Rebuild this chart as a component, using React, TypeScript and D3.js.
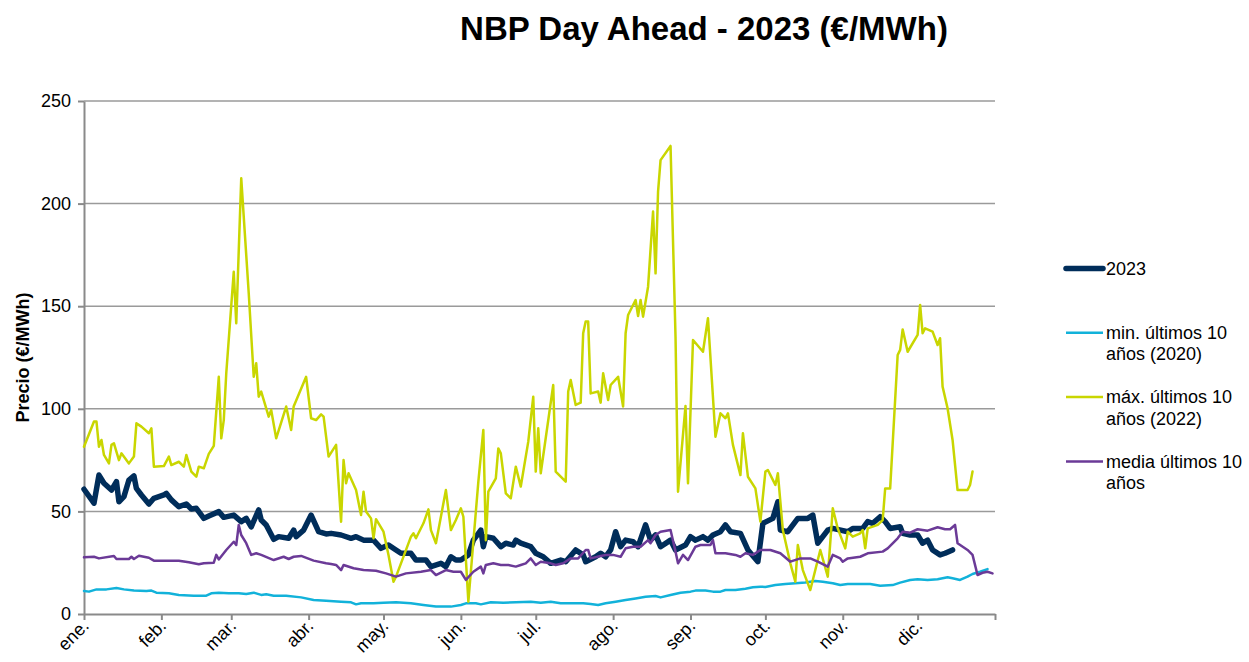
import * as d3 from "d3";
import { useEffect, useRef } from "react";

// day of year (0 = 1 Jan 2023), price €/MWh
const serie2023: [number, number][] = [
  [0, 60.8], [4, 54], [6, 67.7], [8, 63.7], [11, 60.4], [13, 64.5], [14, 54.7], [16, 57.2], [18, 65.3], [20, 67.3],
  [21, 61.2], [23, 58], [26, 53.6], [28, 56.4], [32, 58], [33, 58.8], [35, 55.6], [38, 52.3], [41, 53.6], [43, 51.2],
  [45, 51.5], [48, 46.6], [50, 47.8], [54, 49.9], [56, 47.1], [60, 48.2], [63, 45], [65, 46.6], [67, 42.5], [70, 50.7],
  [71, 45.8], [73, 43.4], [76, 36.4], [78, 37.7], [82, 36.9], [84, 40.9], [85, 37.7], [88, 40.9], [91, 48.2], [94, 40.1],
  [97, 39], [99, 39.3], [103, 38.5], [107, 36.9], [109, 37.7], [112, 36], [116, 36], [119, 32], [122, 33.6], [125, 31.2],
  [127, 29.6], [131, 29.6], [133, 26.3], [137, 26.3], [139, 23.1], [143, 24.7], [145, 23.1], [147, 27.9], [149, 26.3],
  [151, 26.3], [154, 28.8], [156, 36], [159, 40.9], [160, 32.8], [161, 37.7], [164, 36.9], [167, 32.8], [169, 34.5],
  [172, 33.6], [173, 36], [175, 34.5], [179, 32.8], [181, 29.6], [184, 27.9], [187, 24.7], [191, 26.3], [193, 25.5],
  [197, 31.2], [200, 28.8], [201, 25.5], [205, 27.9], [207, 29.6], [209, 27.9], [211, 31.2], [213, 40.1], [215, 32.8],
  [217, 36], [220, 35.2], [222, 32.8], [225, 43.4], [227, 36], [229, 38.5], [231, 32.8], [235, 36], [237, 31.2],
  [241, 33.6], [243, 37.7], [245, 36], [248, 37.7], [250, 36], [252, 38.5], [255, 40.1], [257, 43.4], [259, 40.1],
  [263, 39.3], [266, 31.2], [270, 25.5], [272, 44.2], [276, 46.6], [278, 54.7], [279, 40.9], [282, 40.1], [286, 46.6],
  [290, 46.6], [292, 48.2], [294, 34.5], [298, 40.9], [300, 41.7], [306, 40.1], [308, 41.7], [312, 41.7], [314, 45],
  [316, 44.2], [319, 47.4], [321, 45], [323, 41.7], [327, 42.5], [328, 39.3], [331, 38.5], [334, 38.5], [336, 34.5],
  [338, 36], [340, 31.2], [343, 28.8], [345, 29.6], [348, 31.2],
];

const serieMin: [number, number][] = [
  [0, 11.2], [2, 10.9], [5, 12], [9, 12], [13, 12.7], [16, 12], [20, 11.4], [25, 11.2], [27, 11.4], [29, 10.4],
  [34, 10.1], [38, 9.3], [44, 8.9], [49, 8.9], [51, 10.1], [54, 10.4], [58, 10.1], [62, 10.1], [65, 9.7], [68, 10.4],
  [71, 9.3], [73, 9.6], [76, 8.9], [81, 8.9], [87, 8.1], [92, 6.8], [97, 6.5], [103, 6], [107, 5.7], [109, 4.7],
  [111, 5.2], [116, 5.2], [120, 5.5], [125, 5.7], [131, 5.2], [136, 4.4], [141, 3.6], [147, 3.6], [151, 4.4], [153, 5.2],
  [157, 5.2], [159, 4.7], [163, 5.7], [168, 5.5], [173, 5.7], [179, 6], [183, 5.5], [187, 6], [191, 5.2], [195, 5.2],
  [200, 5.2], [203, 4.9], [206, 4.4], [209, 5.2], [213, 6], [217, 6.8], [221, 7.6], [225, 8.4], [229, 8.8], [231, 8.1],
  [235, 9.3], [239, 10.4], [243, 10.9], [245, 11.4], [249, 11.4], [252, 10.9], [255, 10.9], [257, 11.7], [261, 11.7],
  [265, 12.3], [268, 13], [271, 13.3], [273, 13.2], [277, 14.1], [281, 14.6], [285, 15], [289, 15.3], [293, 16.1],
  [296, 15.7], [300, 15], [303, 14.1], [306, 14.6], [311, 14.6], [315, 14.6], [319, 13.8], [324, 14.1], [327, 15.3],
  [331, 16.6], [334, 16.9], [338, 16.6], [342, 16.9], [346, 17.9], [348, 17.4], [351, 16.6], [354, 18.2], [356, 19.5],
  [359, 20.6], [362, 21.9],
];

const serieMax: [number, number][] = [
  [0, 81.5], [4, 93.8], [5, 93.8], [6, 81.5], [7, 84.8], [8, 77.5], [10, 73.4], [11, 82.4], [12, 83.2], [14, 75],
  [15, 78.3], [18, 73.4], [20, 76.7], [21, 92.9], [23, 91.3], [26, 88.1], [27, 90.5], [28, 71.8], [32, 72.1], [34, 76.7],
  [35, 72.6], [38, 74.2], [40, 71.8], [41, 77.5], [43, 69.4], [45, 66.9], [46, 71.8], [48, 71], [50, 78], [52, 81.9],
  [54, 115.6], [55, 85.6], [56, 94.5], [57, 117.3], [60, 166.8], [61, 141.7], [63, 212.3], [66, 156.3], [68, 115.6],
  [69, 122.2], [70, 105.9], [71, 108.4], [74, 96.2], [75, 99.4], [77, 85.6], [81, 101.1], [83, 89.7], [84, 101.1],
  [89, 115.6], [91, 95.4], [93, 94.5], [95, 97.3], [96, 96.2], [98, 76.7], [101, 82.4], [103, 45], [104, 75], [105, 63.7],
  [106, 68.6], [109, 60.4], [111, 48.2], [112, 59.6], [113, 49.9], [115, 46.6], [116, 36.9], [117, 46.2], [120, 40.1],
  [122, 28.8], [124, 15.7], [125, 18.2], [127, 24.7], [131, 37.7], [132, 39.3], [133, 36.9], [136, 44.2], [138, 51],
  [139, 40.9], [141, 34.5], [145, 60.4], [147, 40.9], [149, 45.8], [151, 51.5], [152, 47.4], [154, 6], [158, 64.5],
  [160, 89.7], [161, 36], [162, 59.6], [165, 66.1], [166, 80.7], [167, 78.3], [169, 58.8], [171, 56.4], [173, 71.8],
  [175, 62.1], [178, 84], [180, 105.9], [181, 69.4], [182, 90.5], [183, 68.6], [188, 111.6], [189, 69.4], [193, 64.5],
  [194, 108.4], [195, 114], [197, 101.9], [199, 103], [200, 136.8], [201, 142.5], [202, 142.5], [203, 107.5],
  [206, 108.4], [207, 103], [208, 117.3], [210, 104.3], [211, 111.6], [214, 115.6], [216, 101.1], [217, 136.8],
  [218, 145.7], [221, 153], [222, 145.2], [223, 153], [224, 144.9], [226, 159.5], [228, 196.1], [229, 166], [230, 205.8],
  [231, 221.2], [235, 228.1], [237, 135.1], [238, 59.6], [241, 101.4], [242, 63.7], [244, 133.5], [248, 127.8],
  [250, 144.1], [253, 86.4], [255, 97.8], [257, 95.4], [258, 97.8], [260, 82.4], [263, 67.7], [264, 88.1], [266, 66.9],
  [269, 61.2], [271, 45], [273, 69.4], [274, 70.2], [277, 62.9], [278, 68.6], [280, 40.9], [283, 24.7], [285, 15.7],
  [286, 33.6], [288, 21.4], [291, 11.7], [295, 31.2], [298, 18.2], [300, 51.5], [302, 41.7], [305, 32], [306, 40.1],
  [308, 37.7], [311, 39.3], [312, 40.9], [313, 32], [314, 41.7], [318, 43.4], [320, 45.8], [321, 61.2], [323, 61.2],
  [326, 126.2], [327, 128.7], [328, 138.7], [330, 127.8], [334, 136], [335, 150.6], [336, 136.8], [337, 139.2],
  [340, 137.6], [342, 131.1], [343, 134.4], [344, 110.8], [346, 100.3], [348, 84.8], [350, 60.4], [354, 60.4],
  [355, 62.9], [356, 69.4],
];

const serieMedia: [number, number][] = [
  [0, 27.6], [4, 27.9], [6, 27.1], [12, 28.3], [13, 26.8], [18, 26.8], [19, 27.9], [20, 26.8], [22, 28.4], [26, 27.4],
  [28, 26], [38, 26], [42, 25.2], [46, 24.2], [48, 24.7], [52, 25], [53, 28.8], [54, 26.6], [57, 31.2], [60, 35.2],
  [61, 33.6], [62, 43.4], [63, 38.5], [65, 34.5], [67, 28.8], [69, 29.6], [71, 28.8], [76, 26.3], [80, 27.9], [82, 26.8],
  [84, 27.9], [87, 28.3], [92, 26], [97, 24.7], [99, 24.4], [101, 23.9], [103, 21.4], [104, 23.9], [108, 22.3],
  [112, 21.4], [117, 21.1], [121, 19.8], [125, 18.2], [129, 19.8], [135, 20.6], [139, 21.4], [141, 19], [145, 21.4],
  [148, 20.6], [151, 20.6], [153, 16.6], [156, 20.6], [159, 23.1], [160, 19.8], [161, 23.9], [164, 24.7], [167, 23.9],
  [170, 23.9], [173, 23.1], [175, 23.9], [177, 24.7], [179, 27.1], [181, 23.9], [183, 25.5], [187, 24.7], [189, 23.9],
  [192, 24.7], [195, 27.1], [198, 27.1], [201, 31.2], [202, 31.2], [203, 27.1], [207, 28.3], [209, 28.8], [212, 28.8],
  [215, 27.9], [217, 32], [220, 32.8], [223, 32.8], [226, 36], [227, 34.5], [229, 38.5], [231, 40.1], [235, 40.9],
  [237, 30.4], [238, 24.7], [240, 28.8], [242, 26.3], [245, 32.8], [247, 33.6], [251, 33.6], [252, 36], [253, 29.6],
  [257, 29.6], [261, 28.8], [263, 27.9], [265, 29.6], [268, 28.8], [271, 31.2], [275, 31.2], [279, 29.6], [283, 25.5],
  [287, 27.1], [291, 27.1], [294, 25.5], [298, 23.1], [300, 28.8], [303, 27.1], [304, 25.5], [306, 27.1], [311, 27.9],
  [314, 29.6], [320, 30.4], [322, 32], [326, 36.9], [328, 40.1], [331, 39.6], [334, 41.3], [338, 40.6], [342, 42.3],
  [345, 41.3], [347, 41.3], [349, 43.4], [350, 34.5], [354, 31.2], [356, 28.8], [358, 19], [360, 20.1], [362, 20.6],
  [364, 19.8],
];

const monthLabels = ["ene.", "feb.", "mar.", "abr.", "may.", "jun.", "jul.", "ago.", "sep.", "oct.", "nov.", "dic."];
const yTicks = [0, 50, 100, 150, 200, 250];

const series = [
  { name: ["2023"], data: serie2023, color: "#002d5a", width: 5.5 },
  { name: ["min. últimos 10", "años (2020)"], data: serieMin, color: "#12b2da", width: 2.5 },
  { name: ["máx. últimos 10", "años (2022)"], data: serieMax, color: "#c9d600", width: 2.5 },
  { name: ["media últimos 10", "años"], data: serieMedia, color: "#6b3a97", width: 2.5 },
];

export default function App() {
  const svgRef = useRef<SVGSVGElement | null>(null);

  useEffect(() => {
    document.body.style.margin = "0";
    const width = 1249;
    const height = 662;
    const margin = { top: 101, right: 254, bottom: 48, left: 84 };
    const font = "'Liberation Sans', Arial, sans-serif";

    const svg = d3.select(svgRef.current);
    svg.selectAll("*").remove();
    svg.attr("width", width).attr("height", height).style("font-family", font);

    const start = new Date(2023, 0, 1);
    const end = new Date(2024, 0, 1);
    const x = d3.scaleTime().domain([start, end]).range([margin.left, width - margin.right]);
    const y = d3.scaleLinear().domain([0, 250]).range([height - margin.bottom, margin.top]);
    const toDate = (d: number) => d3.timeDay.offset(start, d);

    // gridlines
    svg
      .append("g")
      .selectAll("line")
      .data(yTicks.slice(1))
      .join("line")
      .attr("x1", x(start))
      .attr("x2", x(end))
      .attr("y1", (d) => y(d))
      .attr("y2", (d) => y(d))
      .attr("stroke", "#9a9a9a")
      .attr("stroke-width", 1.5);

    // y axis
    const yAxis = svg
      .append("g")
      .attr("transform", `translate(${margin.left},0)`)
      .call(d3.axisLeft(y).tickValues(yTicks).tickSize(6).tickSizeOuter(0));
    yAxis.select(".domain").attr("stroke", "#8a8a8a").attr("stroke-width", 2);
    yAxis.selectAll(".tick line").attr("stroke", "#8a8a8a").attr("stroke-width", 2);
    yAxis
      .selectAll(".tick text")
      .attr("x", -13)
      .attr("font-size", 18)
      .attr("font-family", font)
      .attr("fill", "#000");

    // x axis
    const months = d3.timeMonth.range(start, d3.timeDay.offset(end, 1));
    const xAxis = svg
      .append("g")
      .attr("transform", `translate(0,${y(0)})`)
      .call(d3.axisBottom(x).tickValues(months).tickSize(6).tickSizeOuter(0).tickFormat(() => ""));
    xAxis.select(".domain").attr("stroke", "#8a8a8a").attr("stroke-width", 2);
    xAxis.selectAll(".tick line").attr("stroke", "#8a8a8a").attr("stroke-width", 2);

    svg
      .append("g")
      .selectAll("text")
      .data(months.slice(0, 12))
      .join("text")
      .attr("transform", (d) => `translate(${x(d) + 6},${y(0) + 13}) rotate(-45)`)
      .attr("text-anchor", "end")
      .attr("font-size", 18)
      .text((d, i) => monthLabels[i]);

    // lines
    const line = d3
      .line<[number, number]>()
      .x((d) => x(toDate(d[0])))
      .y((d) => y(d[1]));

    svg
      .append("g")
      .selectAll("path")
      .data(series)
      .join("path")
      .attr("d", (s) => line(s.data))
      .attr("fill", "none")
      .attr("stroke", (s) => s.color)
      .attr("stroke-width", (s) => s.width)
      .attr("stroke-linejoin", "round")
      .attr("stroke-linecap", "round");

    // title
    svg
      .append("text")
      .attr("x", 704)
      .attr("y", 40)
      .attr("text-anchor", "middle")
      .attr("font-size", 33)
      .attr("font-weight", "bold")
      .text("NBP Day Ahead - 2023 (€/MWh)");

    // y label
    svg
      .append("text")
      .attr("transform", `translate(29,${(y(0) + y(250)) / 2}) rotate(-90)`)
      .attr("text-anchor", "middle")
      .attr("font-size", 18)
      .attr("font-weight", "bold")
      .text("Precio (€/MWh)");

    // legend
    const legendY = [268.5, 332.7, 397, 461.5];
    const legend = svg
      .append("g")
      .selectAll("g")
      .data(series)
      .join("g")
      .attr("transform", (s, i) => `translate(1066,${legendY[i]})`);
    legend
      .append("line")
      .attr("x1", 0)
      .attr("x2", 37)
      .attr("stroke", (s) => s.color)
      .attr("stroke-width", (s) => s.width)
      .attr("stroke-linecap", (s) => (s.width > 3 ? "round" : "butt"));
    legend
      .append("text")
      .attr("x", 40)
      .attr("font-size", 18)
      .attr("dominant-baseline", "central")
      .selectAll("tspan")
      .data((s) => s.name)
      .join("tspan")
      .attr("x", 40)
      .attr("dy", (d, i) => (i === 0 ? 0 : 21.5))
      .text((d) => d);
  }, []);

  return <svg ref={svgRef} style={{ display: "block" }}></svg>;
}
